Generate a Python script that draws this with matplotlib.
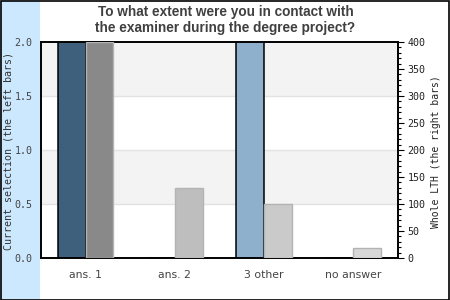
import matplotlib
matplotlib.use("Agg")
import matplotlib.pyplot as plt
import numpy as np
from matplotlib.patches import Rectangle
from matplotlib.ticker import MultipleLocator

categories = ["ans. 1", "ans. 2", "3 other", "no answer"]
current_selection = [2, 0, 2, 0]
whole_lth = [400, 130, 100, 19]
left_colors = ["#3f607d", "#3f607d", "#8fb0cc", "#8fb0cc"]
right_colors = ["#898989", "#bebebe", "#cacaca", "#d8d8d8"]
left_ticks = [0.0, 0.5, 1.0, 1.5, 2.0]
right_ticks = [0, 50, 100, 150, 200, 250, 300, 350, 400]
title = "To what extent were you in contact with\nthe examiner during the degree project?"
left_label = "Current selection (the left bars)"
right_label = "Whole LTH (the right bars)"

W, H = 450, 300
fig = plt.figure(figsize=(W / 100, H / 100), dpi=100)
fig.patch.set_facecolor("white")

# light blue band on the left and figure border
fig.patches.append(Rectangle((0, 0), 40 / W, 1, transform=fig.transFigure,
                             facecolor="#cce8fe", edgecolor="none", zorder=-5))
fig.patches.append(Rectangle((0.5 / W, 0.5 / H), 1 - 1.5 / W, 1 - 1.5 / H,
                             transform=fig.transFigure, facecolor="none",
                             edgecolor="black", linewidth=1.2, zorder=10))

ax = fig.add_axes([41 / W, (H - 258) / H, 357 / W, 216 / H])
ax.set_facecolor("white")
ax.set_xlim(-0.5, 3.5)
ax.set_ylim(0, 2)

# alternating bands and grid
for lo, hi in [(0.5, 1.0), (1.5, 2.0)]:
    ax.axhspan(lo, hi, facecolor="#f3f3f3", edgecolor="none", zorder=0)
for y in [0.5, 1.0, 1.5]:
    ax.axhline(y, color="#e2e2e2", linewidth=1, zorder=0.5)

x = np.arange(len(categories))
w = 0.31
ax.bar(x - w / 2, current_selection, width=w, color=left_colors,
       edgecolor="black", linewidth=1.1, zorder=3)

ax2 = ax.twinx()
ax2.set_ylim(0, 400)
ax2.bar(x + w / 2, whole_lth, width=w, color=right_colors,
        edgecolor="#b3b3b3", linewidth=1.0, zorder=3)
ax2.patch.set_visible(False)

mono = "DejaVu Sans Mono"
ax.set_yticks(left_ticks)
ax.set_yticklabels([f"{t:.1f}" for t in left_ticks], family=mono,
                   fontsize=7.2, color="#444444")
ax.tick_params(axis="y", length=0, pad=6)
ax.set_xticks(x)
ax.set_xticklabels(categories, fontsize=7.8, color="#444444")
ax.tick_params(axis="x", length=0, pad=9)

ax2.set_yticks(right_ticks)
ax2.set_yticklabels([str(t) for t in right_ticks], family=mono,
                    fontsize=7.2, color="#222222")
ax2.yaxis.set_minor_locator(MultipleLocator(10))
ax2.tick_params(axis="y", which="major", length=4, width=0.8, pad=3)
ax2.tick_params(axis="y", which="minor", length=2.5, width=0.8)

for a in (ax, ax2):
    for s in a.spines.values():
        s.set_color("black")
        s.set_linewidth(1.2)

fig.text(9 / W, 1 - 151 / H, left_label, rotation=90, family=mono,
         fontsize=7.2, color="#333333", ha="center", va="center")
fig.text(436 / W, 1 - 152 / H, right_label, rotation=90, family=mono,
         fontsize=7.0, color="#222222", ha="center", va="center")
fig.text(225.5 / W, 1 - 20 / H, title, family="Liberation Sans",
         fontweight="bold", fontsize=9.8, color="#404040",
         ha="center", va="center", linespacing=1.1)

fig.savefig("out.png", dpi=100)
